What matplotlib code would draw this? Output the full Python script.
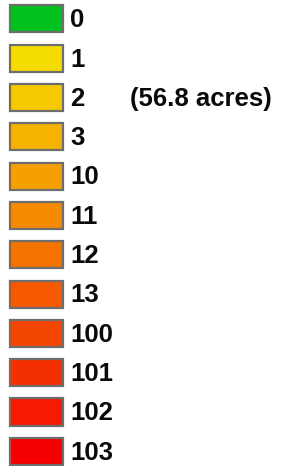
import matplotlib
matplotlib.use("Agg")
import matplotlib.pyplot as plt
import numpy as np

categories = ["0", "1", "2", "3", "10", "11", "12", "13", "100", "101", "102", "103"]
colors = ["#00C21E", "#F5DC00", "#F5C800", "#F5B200", "#F5A000", "#F58A00",
          "#F57300", "#F55A00", "#F54600", "#F53000", "#F51A00", "#F50000"]
note_category = "2"
note_text = "(56.8 acres)"

W, H = 281, 466
fig = plt.figure(figsize=(W / 100, H / 100), dpi=100)
ax = fig.add_axes([0, 0, 1, 1])
ax.set_axis_off()

sp = 39.3
top = 19.0
ax.set_xlim(0, W)
ax.set_ylim((H - top) / sp, -top / sp)

y = np.arange(len(categories))
ax.barh(y, width=53, left=9.5, height=27 / sp, color=colors,
        edgecolor="#6e6e6e", linewidth=1.6)
base = 8.3 / sp
for yi, lab in zip(y, categories):
    ax.text(70, yi + base, lab, fontsize=18.5, fontweight="bold", va="baseline",
            ha="left", family="Liberation Sans", color="#0a0a0a")
ax.text(130, categories.index(note_category) + base, note_text, fontsize=18.5,
        fontweight="bold", va="baseline", ha="left", family="Liberation Sans",
        color="#0a0a0a")

fig.savefig("out.png", dpi=100)
